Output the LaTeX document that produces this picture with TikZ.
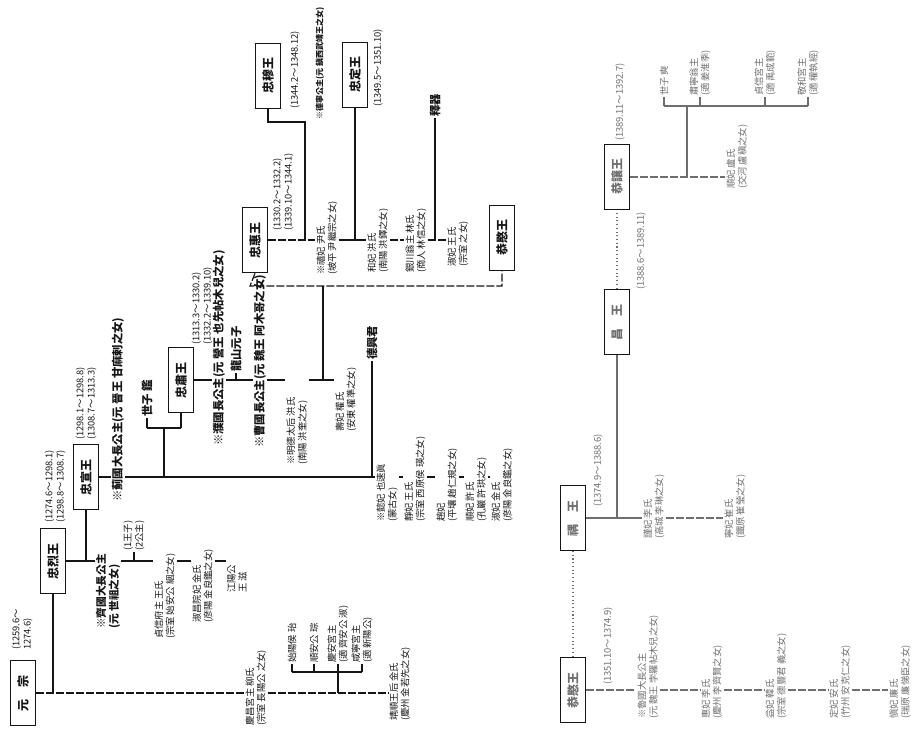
\documentclass[tikz,border=0pt]{standalone}
\usepackage{fontspec}
\setmainfont{Noto Sans CJK KR}
\usetikzlibrary{backgrounds}
\definecolor{inkCol}{HTML}{151515}
\definecolor{fadeCol}{HTML}{6E6E6E}

\begin{document}
\begin{tikzpicture}[
    x=0.75pt, y=-0.75pt,
    king/.style={rectangle, draw=inkCol, line width=1.1pt, rotate=90, minimum width=49pt, minimum height=19pt, inner sep=1pt, font=\bfseries\fontsize{9}{10}\selectfont, text=inkCol},
    note/.style={rotate=90, anchor=west, align=left, inner sep=0.6pt, font=\fontsize{7}{8.6}\selectfont, text=inkCol},
    lady/.style={note, font=\bfseries\fontsize{8.5}{10}\selectfont},
    dates/.style={note, font=\fontsize{7}{8.4}\selectfont},
    faded/.style={text=fadeCol},
    edge/.style={line width=0.9pt, draw=inkCol},
    trunk/.style={edge, dash pattern=on 6pt off 1.5pt},
    blood/.style={line width=0.8pt, draw=fadeCol, dotted}
]
\useasboundingbox (0,0) rectangle (924,734);

% =====================================================================
% YUANZONG AND HIS HOUSE (bottom band)
% =====================================================================
\node[king] (WJ) at (23,693) {元\quad 宗};
\node[dates] (d0) at (22,651) {(1259.6～\\1274.6)};
\node[king] (CR) at (53,561) {忠烈王};
\node[dates] (d1) at (55,524) {(1274.6～1298.1)\\(1298.8～1308.7)};

\node[note] (a1) at (256,727) {慶昌宮主 柳氏\\(宗室 長陽公 之女)};
\node[note] (a2) at (292,664) {始陽侯 珆};
\node[note] (a3) at (314,664) {順安公 琮};
\node[note] (a4) at (338,664) {慶安宮主\\(適 齊安公 淑)};
\node[note] (a5) at (362,664) {咸寧宮主\\(適 新陽公)};
\node[note] (a6) at (400,722) {靖順王后 金氏\\(慶州 金若先之女)};
\coordinate (ab) at (338,672);

% =====================================================================
% CHUNGNYEOL LINE
% =====================================================================
\node[note, font=\bfseries\fontsize{8}{9.5}\selectfont] (b1) at (108,630) {※齊國大長公主\\(元 世祖之女)};
\node[king] (CS) at (86,477) {忠宣王};
\node[dates] (d2) at (86,441) {(1298.1～1298.8)\\(1308.7～1313.3)};
\node[note] (b2) at (134,552) {(1王子)\\(2公主)};
\node[note] (b3) at (165,640) {貞信府主 王氏\\(宗室 始安公 絪之女)};
\node[note] (b4) at (203,624) {淑昌院妃 金氏\\(彦陽 金良鑑之女)};
\node[note] (b5) at (237,594) {江陽公\\王 滋};

% =====================================================================
% CHUNGSEON LINE
% =====================================================================
\node[lady] (c1) at (118,503) {※薊國大長公主(元 晉王 甘麻剌之女)};
\node[lady] (c2) at (147,418) {世子 鑑};
\node[king] (SS) at (181,380) {忠肅王};
\node[dates] (d3) at (202,346) {(1313.3～1330.2)\\(1332.2～1339.10)};
\coordinate (cb) at (164,428);
\node[lady] (c3) at (372,361) {德興君};
\node[note] (c4) at (387,523) {※懿妃 也速眞\\(蒙古女)};
\node[note] (c5) at (415,523) {靜妃 王氏\\(宗室 西原侯 瑛之女)};
\node[note] (c6) at (447,523) {趙妃\\(平壤 趙仁規之女)};
\node[note] (c7) at (476,523) {順妃 許氏\\(孔巖 許珙之女)};
\node[note] (c8) at (502,523) {淑妃 金氏\\(彦陽 金良鑑之女)};

% =====================================================================
% CHUNGSUK LINE
% =====================================================================
\node[lady] (e1) at (219,447) {※濮國長公主(元 營王 也先帖木兒之女)};
\node[lady] (e2) at (236,373) {龍山元子};
\node[lady] (e3) at (260,449) {※曹國長公主(元 魏王 阿木哥之女)};
\node[note] (e4) at (297,466) {※明德太后 洪氏\\(南陽 洪奎之女)};
\node[note] (e5) at (346,433) {壽妃 權氏\\(安東 權準之女)};
\coordinate (ej) at (323,380);
\coordinate (fb) at (250,286);

% =====================================================================
% CHUNGHYE LINE
% =====================================================================
\node[king] (CH) at (255,240) {忠惠王};
\node[dates] (d4) at (283,232) {(1330.2～1332.2)\\(1339.10～1344.1)};
\node[king] (CM) at (268,76) {忠穆王};
\node[dates] (d5) at (295,110) {(1344.2～1348.12)};
\coordinate (fj) at (305,122);
\node[lady, font=\bfseries\fontsize{6}{7}\selectfont] (f0) at (320,121) {※德寧公主(元 鎭西武靖王之女)};
\node[note] (f1) at (327,276) {※禧妃 尹氏\\(坡平 尹繼宗之女)};
\node[king] (CJ) at (355,75) {忠定王};
\node[dates] (d6) at (378,108) {(1349.5～1351.10)};
\node[note] (f2) at (378,274) {和妃 洪氏\\(南陽 洪鐸之女)};
\node[note] (f3) at (416,274) {銀川翁主 林氏\\(商人 林信之女)};
\node[lady] (f4) at (435,118) {釋器};
\node[note] (f5) at (458,268) {淑妃 王氏\\(宗室 之女)};
\node[king] (GMa) at (502,238) {恭愍王};

% =====================================================================
% GONGMIN TO GONGYANG (right half)
% =====================================================================
\node[king, text=fadeCol] (GM) at (573,690) {恭愍王};
\node[dates, faded] (d7) at (608,686) {(1351.10～1374.9)};
\node[king, text=fadeCol] (UW) at (573,518) {禑\quad 王};
\node[dates, faded] (d8) at (598,508) {(1374.9～1388.6)};
\node[king, text=fadeCol] (CW) at (617,322) {昌\quad 王};
\node[dates, faded] (d9) at (641,291) {(1388.6～1389.11)};
\node[king, text=fadeCol] (GY) at (617,177) {恭讓王};
\node[dates, faded] (d10) at (620,142) {(1389.11～1392.7)};

\node[note, faded] (g1) at (654,540) {謹妃 李氏\\(高城 李琳之女)};
\node[note, faded] (g2) at (735,540) {寧妃 崔氏\\(鐵原 崔瑩之女)};

\node[note, faded] (h1) at (648,720) {※魯國大長公主\\(元 魏王 孛羅帖木兒之女)};
\node[note, faded] (h2) at (712,720) {惠妃 李氏\\(慶州 李齊賢之女)};
\node[note, faded] (h3) at (776,720) {益妃 韓氏\\(宗室 德豐君 義之女)};
\node[note, faded] (h4) at (840,720) {定妃 安氏\\(竹州 安克仁之女)};
\node[note, faded] (h5) at (900,720) {愼妃 廉氏\\(瑞原 廉悌臣之女)};

\node[note, faded] (i1) at (737,190) {順妃 盧氏\\(交河 盧稹之女)};
\node[note, faded] (i2) at (664,97) {世子 奭};
\node[note, faded] (i3) at (700,97) {肅寧翁主\\(適 姜淮季)};
\node[note, faded] (i4) at (765,97) {貞信宮主\\(適 禹成範)};
\node[note, faded] (i5) at (808,97) {敬和宮主\\(適 權執經)};
\coordinate (ib) at (687,106);

% =====================================================================
% EDGES
% =====================================================================
\begin{scope}[on background layer]
    % Yuanzong trunk
    \draw[trunk] (WJ.south) -- (WJ.south -| a1.north);
    \draw[trunk] (WJ.south -| a1.south) -- (WJ.south -| a6.north);
    \draw[edge] (CR.west) -- (CR.west |- WJ.south);
    \draw[edge] (a2.west |- ab) -- (a5.west |- ab);
    \foreach \k in {a2, a3, a4, a5}
        \draw[edge] (\k.west) -- (\k.west |- ab);
    \draw[edge] (ab) -- (ab |- WJ.south);

    % Chungnyeol
    \draw[edge] (CR.south) -- (CR.south -| b1.north);
    \draw[edge] (CR.south -| b1.south) -- (CR.south -| b3.north);
    \draw[edge] (CR.south -| b3.south) -- (CR.south -| b4.north);
    \draw[edge] (CR.south -| b4.south) -- (CR.south -| b5.north);
    \draw[edge] (CS.west) -- (CS.west |- CR.south);
    \draw[edge] (b2.west) -- (b2.west |- CR.south);

    % Chungseon
    \draw[edge] (CS.south) -- (CS.south -| c1.north);
    \draw[edge, line width=1.4pt] (CS.south -| c1.south) -- (CS.south -| c3.west);
    \draw[trunk] (CS.south -| c3.west) -- (CS.south -| c4.north);
    \foreach \u/\v in {c4/c5, c5/c6, c6/c7, c7/c8}
        \draw[trunk] (CS.south -| \u.south) -- (CS.south -| \v.north);
    \draw[edge] (cb |- CS.south) -- (cb);
    \draw[edge] (c2.west |- cb) -- (SS.west |- cb);
    \draw[edge] (c2.west) -- (c2.west |- cb);
    \draw[edge] (SS.west) -- (SS.west |- cb);
    \draw[edge] (c3.west) -- (c3.west |- CS.south);

    % Chungsuk
    \draw[edge] (SS.south) -- (SS.south -| e1.north);
    \draw[edge] (SS.south -| e1.south) -- (SS.south -| e3.north);
    \draw[edge] (SS.south -| e3.south) -- (SS.south -| e4.north);
    \draw[edge] (SS.south -| e4.south) -- (SS.south -| e5.north);
    \draw[edge] (e2.west) -- (e2.west |- SS.south);
    \draw[edge] (ej) -- (ej |- fb);
    \draw[trunk] (CH.west) -- (fb) -- (fb -| GMa.west) -- (GMa.west);

    % Chunghye
    \draw[trunk] (CH.south) -- (CH.south -| f1.north);
    \draw[edge] (fj |- CH.south) -- (fj) -- (fj -| CM.west) -- (CM.west);
    \draw[edge] (CH.south -| f1.south) -- (CH.south -| f2.north);
    \draw[trunk] (CH.south -| f2.south) -- (CH.south -| f3.north);
    \draw[trunk] (CH.south -| f3.south) -- (CH.south -| f5.north);
    \draw[edge] (CJ.west) -- (CJ.west |- CH.south);
    \draw[edge] (f4.west) -- (f4.west |- CH.south);

    % Gongmin to Gongyang
    \draw[blood] (GM.east) -- (UW.west);
    \draw[edge, draw=fadeCol] (UW.south) -- (UW.south -| g1.north);
    \draw[edge, draw=fadeCol] (CW.west) -- (CW.west |- UW.south);
    \draw[trunk, draw=fadeCol] (UW.south -| g1.south) -- (UW.south -| g2.north);
    \draw[blood] (CW.east) -- (GY.west);
    \draw[trunk, draw=fadeCol] (GM.south) -- (GM.south -| h1.north);
    \foreach \u/\v in {h1/h2, h2/h3, h3/h4, h4/h5}
        \draw[trunk, draw=fadeCol] (GM.south -| \u.south) -- (GM.south -| \v.north);
    \draw[trunk, draw=fadeCol] (GY.south) -- (GY.south -| i1.north);
    \draw[edge, draw=fadeCol] (ib |- GY.south) -- (ib);
    \draw[edge, draw=fadeCol] (i2.west |- ib) -- (i5.west |- ib);
    \foreach \k in {i2, i3, i4, i5}
        \draw[edge, draw=fadeCol] (\k.west) -- (\k.west |- ib);
\end{scope}

\end{tikzpicture}
\end{document}
